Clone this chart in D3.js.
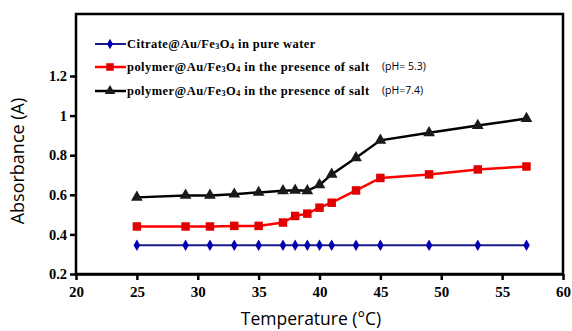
<!DOCTYPE html>
<html><head><meta charset="utf-8">
<script src="https://cdn.jsdelivr.net/npm/d3@7"></script>
<style>body{margin:0;background:#fff}svg{display:block}</style>
</head><body>
<svg id="c" width="572" height="331"></svg>
<script>
const temperature = [25,29,31,33,35,37,38,39,40,41,43,45,49,53,57];
const citrateWater = [0.345,0.345,0.345,0.345,0.345,0.345,0.345,0.345,0.345,0.345,0.345,0.345,0.345,0.345,0.345];
const polymerSalt53 = [0.44,0.44,0.44,0.443,0.443,0.46,0.493,0.505,0.535,0.56,0.622,0.685,0.703,0.728,0.743];
const polymerSalt74 = [0.587,0.597,0.597,0.603,0.612,0.62,0.623,0.62,0.65,0.703,0.787,0.875,0.913,0.95,0.985];
const xTicks = [20,25,30,35,40,45,50,55,60];
const yTicks = [0.2,0.4,0.6,0.8,1.0,1.2];
const yTickLabels = ["0.2","0.4","0.6","0.8","1","1.2"];

const series = [
  {name:"Citrate@Au/Fe", sub:"3", mid:"O", sub2:"4", rest:" in pure water", ph:"", values:citrateWater, line:"#1a1a8c", fill:"#0000b0", symbol:d3.symbolDiamond, size:38, lw:2},
  {name:"polymer@Au/Fe", sub:"3", mid:"O", sub2:"4", rest:" in the presence of salt", ph:"(pH= 5.3)", values:polymerSalt53, line:"#ff0000", fill:"#e00000", symbol:d3.symbolSquare, size:72, lw:2.5},
  {name:"polymer@Au/Fe", sub:"3", mid:"O", sub2:"4", rest:" in the presence of salt", ph:"(pH=7.4)", values:polymerSalt74, line:"#000000", fill:"#1a1a1a", symbol:d3.symbolTriangle, size:60, lw:2.5}
];

const svg = d3.select("#c");
const L=76, R=563, T=14, B=274;
const x = d3.scaleLinear().domain([20,60]).range([L,R]);
const y = d3.scaleLinear().domain([0.2,1.2]).range([B,76]);

// frame
svg.append("rect").attr("x",L).attr("y",T).attr("width",R-L).attr("height",B-T)
  .attr("fill","none").attr("stroke","#000").attr("stroke-width",2.5);

// x axis
const xa = svg.append("g").attr("transform",`translate(0,${B})`)
  .call(d3.axisBottom(x).tickValues(xTicks).tickSize(6).tickSizeOuter(0).tickFormat(d3.format("d")));
xa.select(".domain").attr("stroke-width",2.5);
xa.selectAll(".tick line").attr("stroke-width",2.5);
xa.selectAll("text").attr("font-family","'Liberation Serif',serif").attr("font-weight","bold")
  .attr("font-size",15).attr("fill","#000").attr("dy","0.9em");

// y axis
const ya = svg.append("g").attr("transform",`translate(${L},0)`)
  .call(d3.axisLeft(y).tickValues(yTicks).tickSize(6).tickSizeOuter(0).tickFormat((d,i)=>yTickLabels[i]));
ya.select(".domain").remove();
ya.selectAll(".tick line").attr("stroke-width",2.5);
ya.selectAll("text").attr("font-family","'Liberation Serif',serif").attr("font-weight","bold")
  .attr("font-size",14.5).attr("fill","#000").attr("x",-9);

// titles
svg.append("text").attr("x",311).attr("y",325).attr("text-anchor","middle")
  .attr("font-family","'Open Sans','DejaVu Sans',sans-serif").attr("font-size",17.5).text("Temperature (°C)");
svg.append("text").attr("transform","translate(24,161) rotate(-90)").attr("text-anchor","middle")
  .attr("font-family","'Open Sans','DejaVu Sans',sans-serif").attr("font-size",18).text("Absorbance (A)");

// series
const line = d3.line().x((d,i)=>x(temperature[i])).y(d=>y(d));
series.forEach(s=>{
  svg.append("path").datum(s.values).attr("d",line).attr("fill","none")
    .attr("stroke",s.line).attr("stroke-width",s.lw);
  svg.append("g").selectAll("path").data(s.values).join("path")
    .attr("transform",(d,i)=>`translate(${x(temperature[i])},${y(d)})`)
    .attr("d",d3.symbol().type(s.symbol).size(s.size)).attr("fill",s.fill);
});

// legend
const legY=[44,67,91];
series.forEach((s,i)=>{
  const g = svg.append("g").attr("transform",`translate(0,${legY[i]})`);
  g.append("line").attr("x1",95).attr("x2",126).attr("stroke",s.line).attr("stroke-width",s.lw);
  g.append("path").attr("transform","translate(110,0)").attr("d",d3.symbol().type(s.symbol).size(s.size*0.8)).attr("fill",s.fill);
  const t = g.append("text").attr("x",127).attr("y",4).attr("font-family","'Liberation Serif',serif")
    .attr("font-weight","bold").attr("font-size",12.5).attr("letter-spacing",0.45).attr("fill","#000");
  t.append("tspan").text(s.name);
  t.append("tspan").attr("font-size",8).attr("dy",1).text(s.sub);
  t.append("tspan").attr("font-size",12.5).attr("dy",-1).text(s.mid);
  t.append("tspan").attr("font-size",8).attr("dy",1).text(s.sub2);
  t.append("tspan").attr("font-size",12.5).attr("dy",-1).text(s.rest);
  if(s.ph) g.append("text").attr("x",382).attr("y",3).attr("font-family","'Open Sans','DejaVu Sans',sans-serif")
    .attr("font-size",10.5).attr("fill","#000").text(s.ph);
});
</script>
</body></html>
